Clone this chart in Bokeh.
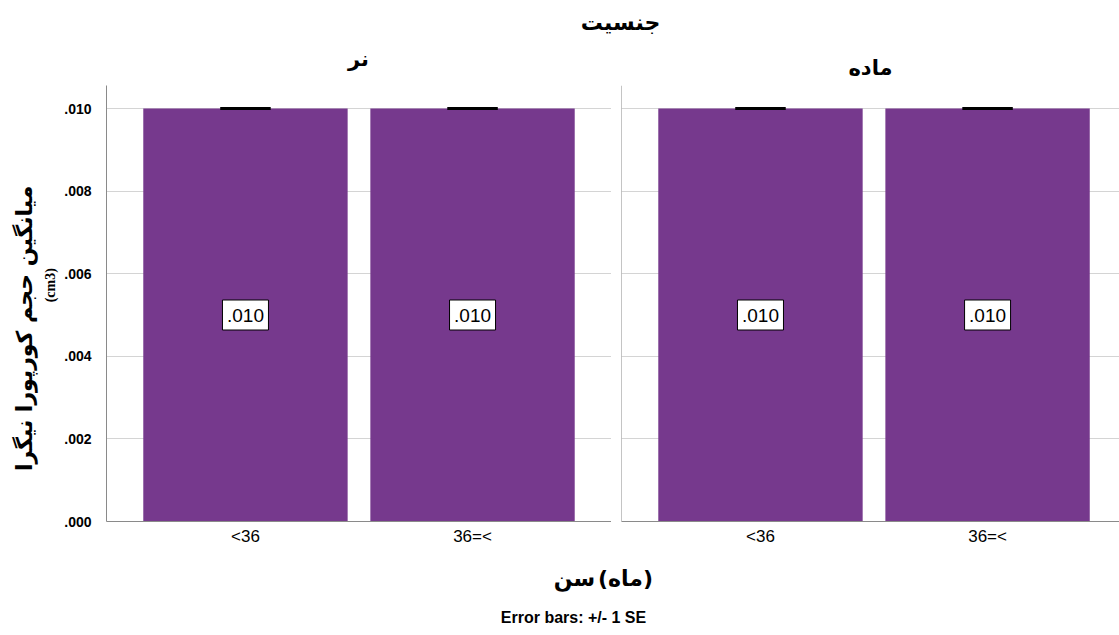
import math
from bokeh.plotting import figure
from bokeh.models import Range1d, FixedTicker, ColumnDataSource, Label, Whisker, TeeHead, Span
from bokeh.layouts import column, row
from bokeh.embed import file_html
from bokeh.resources import INLINE
from bokeh.core.properties import value

# ---------------- data ----------------
facet_title = "جنسیت"
genders = ["نر", "ماده"]
age_groups = ["<36", "36=<"]
male_means = [0.010, 0.010]
female_means = [0.010, 0.010]
male_se = [0.0, 0.0]
female_se = [0.0, 0.0]
y_ticks = [0.000, 0.002, 0.004, 0.006, 0.008, 0.010]
y_tick_labels = [".000", ".002", ".004", ".006", ".008", ".010"]
y_title = "میانگین حجم کورپورا نیگرا"
y_unit = "(cm3)"
x_title_word = "سن"
x_title_unit = "(ماه)"
footer = "Error bars: +/- 1 SE"

BAR = "#76398d"
AXIS = "#8a8a8a"
GRID = "#d4d4d4"
FA = "DejaVu Sans"
LAT = "Liberation Sans"

X_START = -0.612
Y_END = 0.010557


def blank(width, height, y0, y1):
    f = figure(width=width, height=height, x_range=Range1d(0, width),
               y_range=Range1d(y1, y0), x_axis_type=None, y_axis_type=None,
               output_backend="svg", toolbar_location=None, min_border=0)
    f.outline_line_color = None
    f.grid.visible = False
    return f


def panel(means, ses, width, border_left, x_end, show_y_axis):
    xs = list(range(len(age_groups)))
    src = ColumnDataSource(dict(
        x=xs,
        mean=means,
        upper=[m + s for m, s in zip(means, ses)],
        lower=[m - s for m, s in zip(means, ses)],
        mid=[m / 2 for m in means],
        lab=[("%.3f" % m).lstrip("0") for m in means],
    ))
    p = figure(width=width, height=465, x_range=Range1d(X_START, x_end),
               y_range=Range1d(0, Y_END), output_backend="svg",
               toolbar_location=None, min_border_left=border_left,
               min_border_right=0, min_border_top=0, min_border_bottom=29)
    p.outline_line_color = None
    p.vbar(x="x", top="mean", width=0.9, source=src, fill_color=BAR, line_color=None)
    w = Whisker(base="x", upper="upper", lower="lower", source=src,
                line_color="black", line_width=3, level="overlay",
                upper_head=TeeHead(size=50, line_width=3, line_color="black"),
                lower_head=TeeHead(size=50, line_width=3, line_color="black"))
    p.add_layout(w)
    p.rect(x="x", y="mid", width=46, height=30, width_units="screen",
           height_units="screen", fill_color="white", line_color="black",
           line_width=1, source=src)
    p.text(x="x", y="mid", text="lab", text_align="center", text_baseline="middle",
           text_font=value(LAT), text_font_size="19px", text_color="black", source=src)

    p.xgrid.visible = False
    p.ygrid.ticker = FixedTicker(ticks=y_ticks)
    p.ygrid.grid_line_color = GRID
    p.ygrid.grid_line_width = 1

    p.xaxis.ticker = FixedTicker(ticks=xs)
    p.xaxis.major_label_overrides = {i: g for i, g in enumerate(age_groups)}
    p.xaxis.major_label_text_font = LAT
    p.xaxis.major_label_text_font_size = "17px"
    p.xaxis.major_label_text_color = "black"
    p.xaxis.major_label_standoff = 5
    p.xaxis.axis_line_color = AXIS
    p.xaxis.major_tick_out = 0
    p.xaxis.major_tick_in = 0
    p.xaxis.minor_tick_out = 0
    p.xaxis.minor_tick_in = 0
    p.xaxis.major_tick_line_color = None
    p.xaxis.minor_tick_line_color = None

    if show_y_axis:
        p.yaxis.ticker = FixedTicker(ticks=y_ticks)
        p.yaxis.axis_line_color = AXIS
        p.yaxis.major_tick_out = 0
        p.yaxis.major_tick_in = 0
        p.yaxis.minor_tick_out = 0
        p.yaxis.minor_tick_in = 0
        p.yaxis.major_tick_line_color = None
        p.yaxis.minor_tick_line_color = None
        p.yaxis.major_label_overrides = {t: l for t, l in zip(y_ticks, y_tick_labels)}
        p.yaxis.major_label_text_font = LAT
        p.yaxis.major_label_text_font_style = "bold"
        p.yaxis.major_label_text_font_size = "14px"
        p.yaxis.major_label_text_color = "black"
        p.yaxis.major_label_standoff = 15
    else:
        p.yaxis.visible = False
        p.add_layout(Span(location=X_START, dimension="height",
                          line_color=AXIS, line_width=1))
    return p


left = panel(male_means, male_se, 551, 46, 1.612, True)
right = panel(female_means, female_se, 508, 10, 1.581, False)

# y-axis title area (page pixel coordinates)
ytitle = blank(60, 465, 85, 550)
ytitle.add_layout(Label(x=24, y=344, text=y_title, angle=math.pi / 2,
                        text_align="center", text_baseline="middle",
                        text_font=FA, text_font_style="bold", text_font_size="22px",
                        text_color="black"))
ytitle.add_layout(Label(x=50, y=298, text=y_unit, angle=math.pi / 2,
                        text_align="center", text_baseline="middle",
                        text_font="Liberation Serif", text_font_style="bold",
                        text_font_size="14px", text_color="black"))

top = blank(1119, 85, 0, 85)
top.add_layout(Label(x=620, y=22, text=facet_title, text_align="center",
                     text_baseline="middle", text_font=FA, text_font_style="bold",
                     text_font_size="22px", text_color="black"))
for gx, gy, g in zip([358, 870], [58, 67], genders):
    top.add_layout(Label(x=gx, y=gy, text=g, text_align="center", text_baseline="middle",
                         text_font=FA, text_font_style="bold", text_font_size="21px",
                         text_color="black"))

bottom = blank(1119, 85, 550, 635)
bottom.add_layout(Label(x=574, y=578, text=x_title_word, text_align="center",
                        text_baseline="middle", text_font=FA, text_font_style="bold",
                        text_font_size="22px", text_color="black"))
bottom.add_layout(Label(x=625, y=578, text=x_title_unit, text_align="center",
                        text_baseline="middle", text_font=FA, text_font_style="bold",
                        text_font_size="22px", text_color="black"))
bottom.add_layout(Label(x=573, y=617, text=footer, text_align="center",
                        text_baseline="middle", text_font=LAT, text_font_style="bold",
                        text_font_size="16px", text_color="black"))

layout = column(top, row(ytitle, left, right, spacing=0), bottom, spacing=0)

open("out.html", "w").write(file_html(layout, INLINE))
